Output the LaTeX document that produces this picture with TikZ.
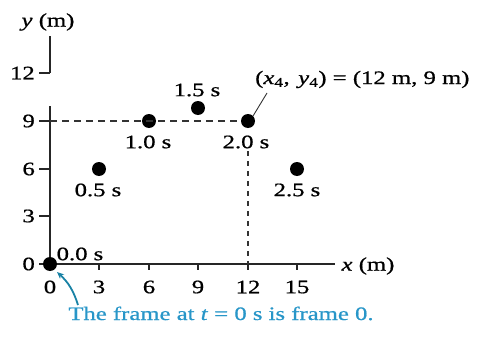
\documentclass[tikz,border=0pt]{standalone}
\usepackage{fontspec}
\setmainfont{Liberation Serif}[FakeStretch=1.3, FakeBold=0.8]
\usetikzlibrary{arrows.meta}
\definecolor{capcol}{RGB}{40,150,200}
\definecolor{arrcol}{RGB}{25,130,165}
\begin{document}
\begin{tikzpicture}[x=1pt,y=-1pt,
  every node/.style={font=\fontsize{19}{22}\selectfont, inner sep=0pt},
  axis/.style={line width=1.3pt, black!85},
  tk/.style={line width=1.1pt, black!85},
  dot/.style={circle, fill=black, minimum size=14pt, inner sep=0pt},
  hdash/.style={line width=1.3pt, black!80, dash pattern=on 7pt off 5pt},
  vdash/.style={line width=1.3pt, black!80, dash pattern=on 5pt off 5pt},
  lbl/.style={anchor=center}]
\useasboundingbox (0,0) rectangle (483,340);
% axes
\coordinate (O) at (50,264);
\coordinate (xend) at (335,264);
\coordinate (ytop) at (50,36);
\coordinate (y12) at (50,73);
\coordinate (ybreak) at (50,106);
\draw[axis] (O) -- (xend);
\draw[axis] (O) -- (ybreak);
\draw[axis] (y12) -- (ytop);
\node (ylab) at (48,22) {\textit{y} (m)};
\node (xlab) at (368,266) {\textit{x} (m)};
% y ticks
\foreach \v/\py in {0/264,3/216,6/169,9/121,12/73}{
  \draw[tk] (39,\py) -- (50,\py);
  \node[anchor=east] (yt\v) at (35,\py) {\v};
}
% x ticks
\foreach \v/\px in {0/50,3/99,6/149,9/198,12/248,15/297}{
  \draw[tk] (\px,264) -- (\px,270);
  \node (xt\v) at (\px,287) {\v};
}
% dashed guides
\coordinate (y9) at (50,121);
\coordinate (vtop) at (248,151);
\coordinate (x12) at (248,264);
% dots
\node[dot] (d0) at (50,264) {};
\node[dot] (d1) at (99,169) {};
\node[dot] (d2) at (149,121) {};
\node[dot] (d3) at (198,108) {};
\node[dot] (d4) at (248,121) {};
\node[dot] (d5) at (297,169) {};
\draw[hdash] (y9) -- (d4.west);
\draw[vdash] (vtop) -- (x12);
% time labels
\node (l0) at (80,254) {0.0 s};
\node (l1) at (98,190) {0.5 s};
\node (l2) at (148,142) {1.0 s};
\node (l3) at (197,90) {1.5 s};
\node (l4) at (246,142) {2.0 s};
\node (l5) at (297,190) {2.5 s};
% coordinate label
\node[anchor=base west] (pos) at (255,84) {(\textit{x}\textsubscript{4},\hspace{0.45em}\textit{y}\textsubscript{4}) = (12 m, 9 m)};
\coordinate (lead) at (267,93);
\draw[line width=0.9pt, black!80] (lead) -- (d4.north east);
% caption
\node[text=capcol, anchor=base] (cap) at (221,320) {The frame at \textit{t} = 0 s is frame 0.};
\coordinate (arrstart) at (78,305);
\coordinate (arrend) at (57,272);
\draw[arrcol, line width=1.8pt, -{Stealth[length=7pt,width=6pt]}] (arrstart) to[bend right=15] (arrend);
\end{tikzpicture}
\end{document}
